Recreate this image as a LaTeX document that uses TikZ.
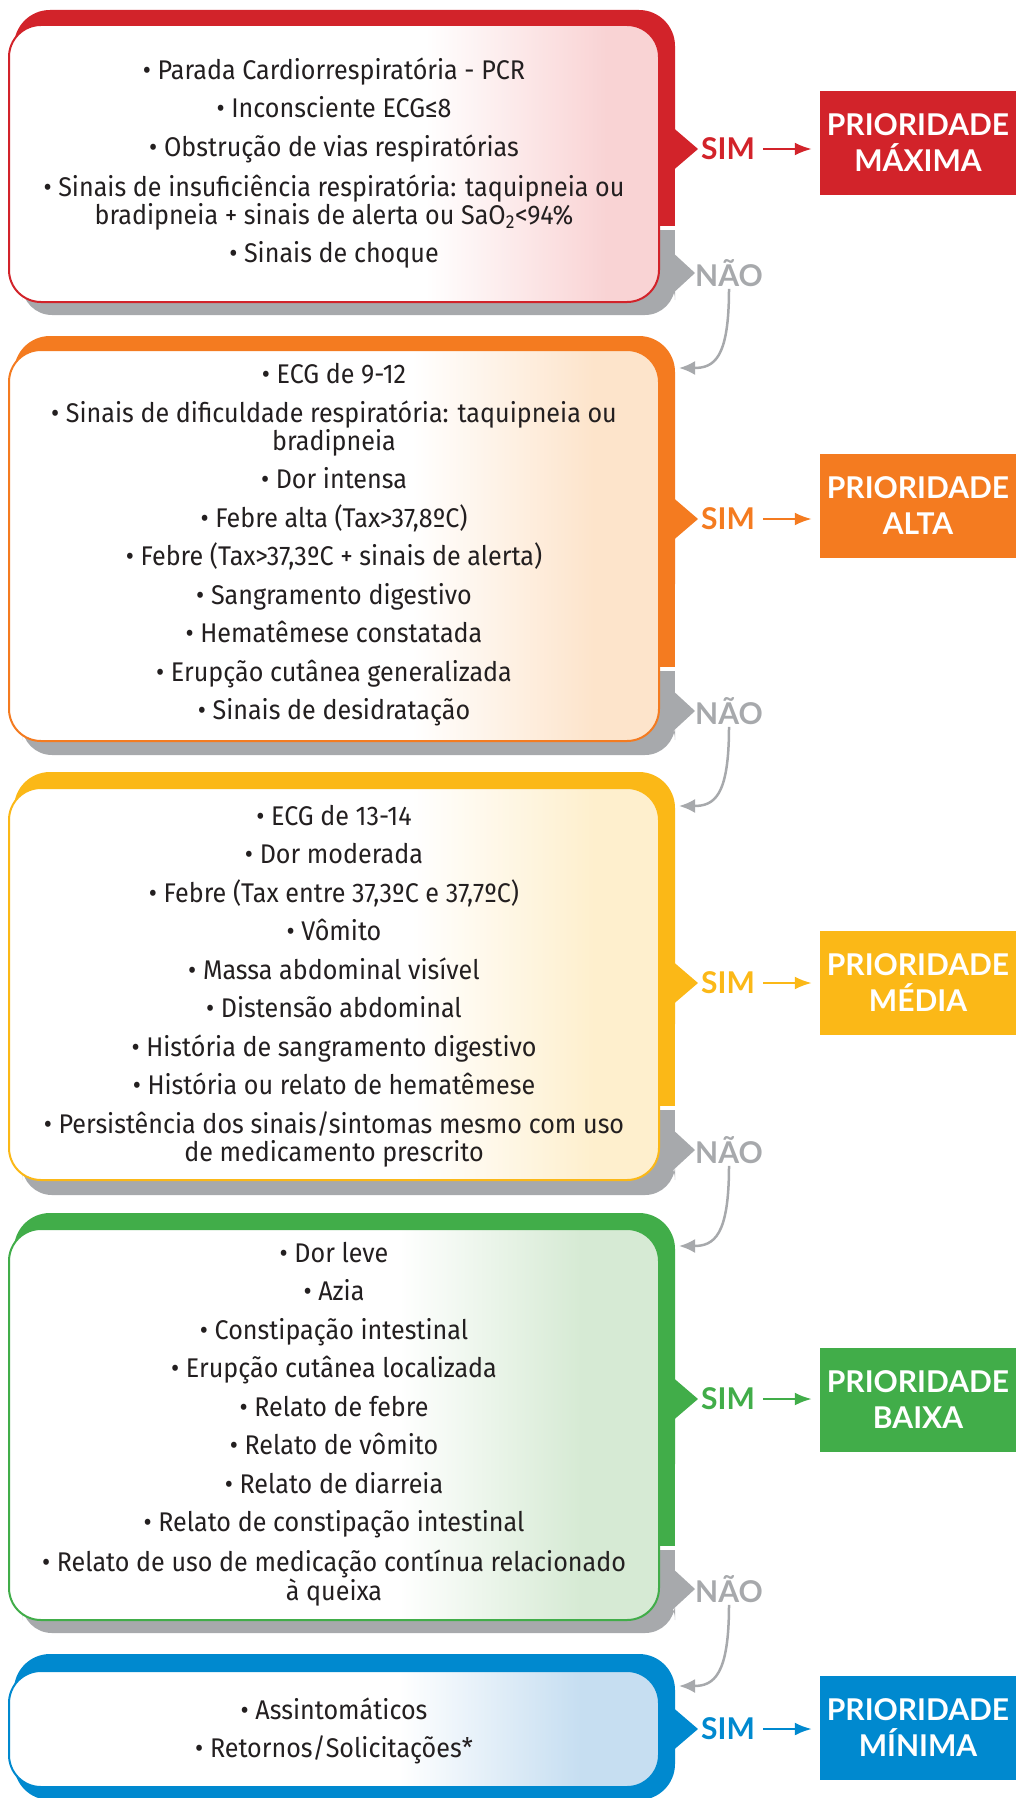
\documentclass[tikz,border=0pt]{standalone}
\usepackage{fontspec}
\setmainfont{Fira Sans}[FakeStretch=0.93]
\newfontfamily\tagfont{Lato}
\usetikzlibrary{arrows.meta}

\definecolor{prired}{HTML}{D2232A}
\definecolor{priorange}{HTML}{F47B20}
\definecolor{priyellow}{HTML}{FBB817}
\definecolor{prigreen}{HTML}{41AD49}
\definecolor{priblue}{HTML}{0089CF}
\definecolor{shadowgray}{HTML}{A7A9AC}
\definecolor{inktext}{HTML}{231F20}
\definecolor{redtint}{HTML}{F9D3D4}
\definecolor{orangetint}{HTML}{FDE4CB}
\definecolor{yellowtint}{HTML}{FEEFCD}
\definecolor{greentint}{HTML}{D6EAD4}
\definecolor{bluetint}{HTML}{C6DEF1}

\pgfdeclarehorizontalshading{redfade}{100bp}{color(0bp)=(white); color(57bp)=(white); color(71bp)=(redtint); color(100bp)=(redtint)}
\pgfdeclarehorizontalshading{orangefade}{100bp}{color(0bp)=(white); color(56bp)=(white); color(70bp)=(orangetint); color(100bp)=(orangetint)}
\pgfdeclarehorizontalshading{yellowfade}{100bp}{color(0bp)=(white); color(56bp)=(white); color(70bp)=(yellowtint); color(100bp)=(yellowtint)}
\pgfdeclarehorizontalshading{greenfade}{100bp}{color(0bp)=(white); color(55bp)=(white); color(69bp)=(greentint); color(100bp)=(greentint)}
\pgfdeclarehorizontalshading{bluefade}{100bp}{color(0bp)=(white); color(55bp)=(white); color(69bp)=(bluetint); color(100bp)=(bluetint)}

\newcommand{\nextitem}{\\[10.5pt]}

\tikzset{
  itemtext/.style={align=center, text=inktext, font=\fontsize{27}{28}\selectfont},
  simtag/.style={font=\tagfont\bfseries\fontsize{30}{30}\selectfont, inner sep=2pt},
  naotag/.style={font=\tagfont\bfseries\fontsize{30}{30}\selectfont, text=shadowgray, inner sep=2pt},
  priobox/.style={minimum width=196pt, minimum height=104pt, inner sep=0pt, align=center,
    text=white, font=\tagfont\bfseries\fontsize{30}{36}\selectfont},
  simarrow/.style={line width=2.5pt, -{Latex[length=17pt,width=13pt]}, shorten <=6pt, shorten >=8pt},
  naoarrow/.style={line width=2.5pt, shadowgray, -{Latex[length=16pt,width=14pt]}},
  innerbox/.style={line width=2pt, rounded corners=32}
}

\begin{document}
\begin{tikzpicture}[x=1pt, y=-1pt]
    \useasboundingbox (0,0) rectangle (1016,1798);

    % prioridade maxima
    \fill[prired, rounded corners=36] (14,10) rectangle (675,190);
    \fill[prired] (600,60) rectangle (675,226);
    \fill[prired] (670,125) -- (698,149) -- (670,173) -- cycle;
    \fill[shadowgray, rounded corners=30] (22,270) rectangle (675,315);
    \fill[shadowgray] (600,230) rectangle (675,285);
    \fill[shadowgray] (670,250) -- (695,273) -- (670,296) -- cycle;
    \shadedraw[innerbox, shading=redfade, draw=prired] (9,25) rectangle (659,302);
    \node[itemtext] (items1) at (334,163) {• Parada Cardiorrespiratória - PCR\nextitem
        • Inconsciente ECG≤8\nextitem
        • Obstrução de vias respiratórias\nextitem
        • Sinais de insuficiência respiratória: taquipneia ou\\
        bradipneia + sinais de alerta ou SaO\textsubscript{2}<94\%\nextitem
        • Sinais de choque};
    \node[simtag, text=prired] (sim1) at (728,149) {SIM};
    \node[priobox, fill=prired] (prio1) at (918,143) {PRIORIDADE\\MÁXIMA};
    \draw[simarrow, prired] (sim1.east) -- (sim1.east -| prio1.west);
    \node[naotag] (nao1) at (729,273) {NÃO};
    \coordinate (back1) at (679,368);
    \draw[naoarrow] (nao1.south) .. controls +(0,70) and +(35,0) .. (back1);

    % prioridade alta
    \fill[priorange, rounded corners=36] (14,336) rectangle (675,620);
    \fill[priorange] (600,390) rectangle (675,667);
    \fill[priorange] (670,495) -- (698,519) -- (670,543) -- cycle;
    \fill[shadowgray, rounded corners=30] (22,710) rectangle (675,755);
    \fill[shadowgray] (600,671) rectangle (675,725);
    \fill[shadowgray] (670,688) -- (695,711) -- (670,734) -- cycle;
    \shadedraw[innerbox, shading=orangefade, draw=priorange] (9,350) rectangle (659,741);
    \node[itemtext] (items2) at (334,545) {• ECG de 9-12\nextitem
        • Sinais de dificuldade respiratória: taquipneia ou\\
        bradipneia\nextitem
        • Dor intensa\nextitem
        • Febre alta (Tax>37,8ºC)\nextitem
        • Febre (Tax>37,3ºC + sinais de alerta)\nextitem
        • Sangramento digestivo\nextitem
        • Hematêmese constatada\nextitem
        • Erupção cutânea generalizada\nextitem
        • Sinais de desidratação};
    \node[simtag, text=priorange] (sim2) at (728,519) {SIM};
    \node[priobox, fill=priorange] (prio2) at (918,506) {PRIORIDADE\\ALTA};
    \draw[simarrow, priorange] (sim2.east) -- (sim2.east -| prio2.west);
    \node[naotag] (nao2) at (729,711) {NÃO};
    \coordinate (back2) at (679,806);
    \draw[naoarrow] (nao2.south) .. controls +(0,70) and +(35,0) .. (back2);

    % prioridade media
    \fill[priyellow, rounded corners=36] (14,772) rectangle (675,1060);
    \fill[priyellow] (600,830) rectangle (675,1106);
    \fill[priyellow] (670,959) -- (698,983) -- (670,1007) -- cycle;
    \fill[shadowgray, rounded corners=30] (22,1150) rectangle (675,1195);
    \fill[shadowgray] (600,1110) rectangle (675,1165);
    \fill[shadowgray] (670,1127) -- (695,1150) -- (670,1173) -- cycle;
    \shadedraw[innerbox, shading=yellowfade, draw=priyellow] (9,788) rectangle (659,1180);
    \node[itemtext] (items3) at (334,986) {• ECG de 13-14\nextitem
        • Dor moderada\nextitem
        • Febre (Tax entre 37,3ºC e 37,7ºC)\nextitem
        • Vômito\nextitem
        • Massa abdominal visível\nextitem
        • Distensão abdominal\nextitem
        • História de sangramento digestivo\nextitem
        • História ou relato de hematêmese\nextitem
        • Persistência dos sinais/sintomas mesmo com uso\\
        de medicamento prescrito};
    \node[simtag, text=priyellow] (sim3) at (728,983) {SIM};
    \node[priobox, fill=priyellow] (prio3) at (918,983) {PRIORIDADE\\MÉDIA};
    \draw[simarrow, priyellow] (sim3.east) -- (sim3.east -| prio3.west);
    \node[naotag] (nao3) at (729,1150) {NÃO};
    \coordinate (back3) at (679,1246);
    \draw[naoarrow] (nao3.south) .. controls +(0,70) and +(35,0) .. (back3);

    % prioridade baixa
    \fill[prigreen, rounded corners=36] (14,1213) rectangle (675,1500);
    \fill[prigreen] (600,1270) rectangle (675,1546);
    \fill[prigreen] (670,1375) -- (698,1399) -- (670,1423) -- cycle;
    \fill[shadowgray, rounded corners=30] (22,1590) rectangle (675,1633);
    \fill[shadowgray] (600,1550) rectangle (675,1605);
    \fill[shadowgray] (670,1566) -- (695,1589) -- (670,1612) -- cycle;
    \shadedraw[innerbox, shading=greenfade, draw=prigreen] (9,1229) rectangle (659,1620);
    \node[itemtext] (items4) at (334,1424) {• Dor leve\nextitem
        • Azia\nextitem
        • Constipação intestinal\nextitem
        • Erupção cutânea localizada\nextitem
        • Relato de febre\nextitem
        • Relato de vômito\nextitem
        • Relato de diarreia\nextitem
        • Relato de constipação intestinal\nextitem
        • Relato de uso de medicação contínua relacionado\\
        à queixa};
    \node[simtag, text=prigreen] (sim4) at (728,1399) {SIM};
    \node[priobox, fill=prigreen] (prio4) at (918,1400) {PRIORIDADE\\BAIXA};
    \draw[simarrow, prigreen] (sim4.east) -- (sim4.east -| prio4.west);
    \node[naotag] (nao4) at (729,1589) {NÃO};
    \coordinate (back4) at (679,1686);
    \draw[naoarrow] (nao4.south) .. controls +(0,70) and +(35,0) .. (back4);

    % prioridade minima
    \fill[priblue, rounded corners=36] (14,1654) rectangle (675,1800);
    \fill[priblue] (670,1705) -- (698,1729) -- (670,1753) -- cycle;
    \shadedraw[innerbox, shading=bluefade, draw=priblue] (9,1671) rectangle (659,1787);
    \node[itemtext] (items5) at (334,1731) {• Assintomáticos\nextitem
        • Retornos/Solicitações*};
    \node[simtag, text=priblue] (sim5) at (728,1729) {SIM};
    \node[priobox, fill=priblue] (prio5) at (918,1728) {PRIORIDADE\\MÍNIMA};
    \draw[simarrow, priblue] (sim5.east) -- (sim5.east -| prio5.west);

\end{tikzpicture}
\end{document}
